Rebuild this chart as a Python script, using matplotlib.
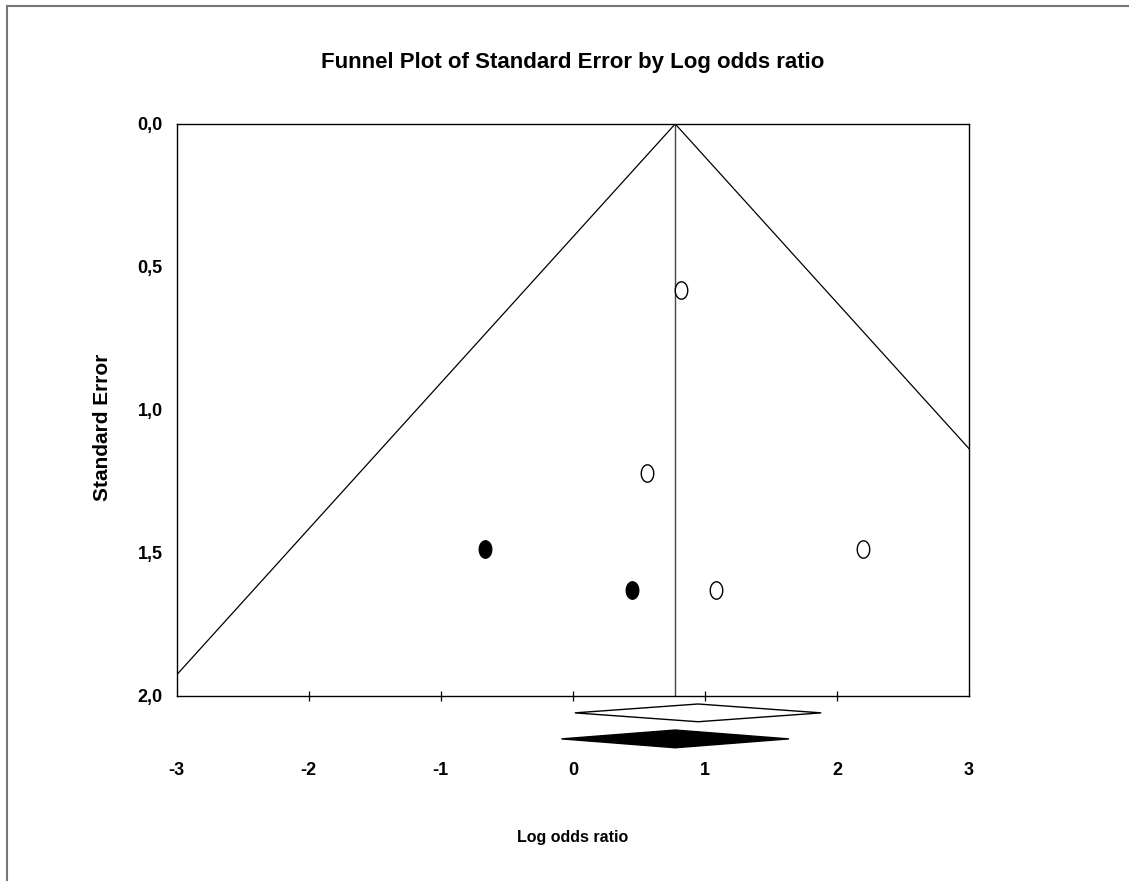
# Funnel plot of standard error by log odds ratio (trim and fill)
import matplotlib
matplotlib.use("Agg")
import matplotlib.pyplot as plt
from matplotlib.patches import Polygon
from matplotlib.path import Path
from matplotlib.lines import Line2D
import numpy as np

# observed studies
log_or_obs = [0.816, 0.558, 2.200, 1.086]
se_obs = [0.582, 1.219, 1.486, 1.631]

# imputed studies
log_or_imp = [-0.666, 0.450]
se_imp = [1.486, 1.631]

# combined estimates: lower, point, upper
combined_obs = [0.015, 0.948, 1.881]
combined_adj = [-0.086, 0.775, 1.636]

x_ticks = [-3, -2, -1, 0, 1, 2, 3]
y_ticks = [0.0, 0.5, 1.0, 1.5, 2.0]
y_ticklabels = ["0,0", "0,5", "1,0", "1,5", "2,0"]

narrow = ["Liberation Sans Narrow", "DejaVu Sans Condensed", "Liberation Sans", "DejaVu Sans"]
wide = ["Liberation Sans", "DejaVu Sans"]

fig = plt.figure(figsize=(11.29, 8.81), dpi=100)
ax = fig.add_axes([0.1565, 0.2100, 0.7018, 0.6493])

# a slightly tall ellipse marker
t = np.linspace(0, 2 * np.pi, 60)
ellipse = Path(np.column_stack([0.72 * np.cos(t), np.sin(t)]), closed=True)

ax.scatter(log_or_obs, se_obs, marker=ellipse, s=12.5 ** 2, facecolors="white",
           edgecolors="black", linewidths=1.0, zorder=4)
ax.scatter(log_or_imp, se_imp, marker=ellipse, s=12.5 ** 2, facecolors="black",
           edgecolors="black", linewidths=1.0, zorder=4)

# funnel around the adjusted estimate
centre = combined_adj[1]
se_line = np.array([0.0, 2.2])
ax.plot(centre - 1.96 * se_line, se_line, color="black", lw=0.9)
ax.plot(centre + 1.96 * se_line, se_line, color="black", lw=0.9)
ax.plot([centre, centre], [0, 2], color="#444444", lw=1.0)

# summary diamonds below the axis
def diamond(ci, y, h, face):
    lo, mid, hi = ci
    pts = [(lo, y), (mid, y - h), (hi, y), (mid, y + h)]
    ax.add_patch(Polygon(pts, closed=True, facecolor=face, edgecolor="black",
                         lw=1.0, clip_on=False, zorder=3))

diamond(combined_obs, 2.059, 0.031, "white")
diamond(combined_adj, 2.150, 0.031, "black")

ax.set_xlim(-3, 3)
ax.set_ylim(2, 0)
ax.set_xticks(x_ticks)
ax.set_xticklabels([str(v) for v in x_ticks], fontfamily=narrow, fontweight="bold", fontsize=13)
ax.set_yticks(y_ticks)
ax.set_yticklabels(y_ticklabels, fontfamily=narrow, fontweight="bold", fontsize=13)
ax.tick_params(axis="x", direction="inout", length=7, width=0.9, pad=44)
ax.tick_params(axis="y", length=0, pad=10)
# no tick marks at the two corners
xt = ax.xaxis.get_major_ticks()
xt[0].tick1line.set_visible(False)
xt[-1].tick1line.set_visible(False)
for s in ax.spines.values():
    s.set_linewidth(1.0)

ax.set_xlabel("Log odds ratio", fontfamily=narrow, fontweight="bold", fontsize=11.5, labelpad=37)
ax.set_ylabel("Standard Error", fontfamily=wide, fontweight="bold", fontsize=15)
ax.yaxis.set_label_coords(-0.082, 0.47)
ax.set_title("Funnel Plot of Standard Error by Log odds ratio", fontfamily=narrow,
             fontweight="bold", fontsize=16, pad=40)

# outer frame lines
fig.add_artist(Line2D([0.006, 0.006], [0, 0.993], color="#777777", lw=1.5))
fig.add_artist(Line2D([0.006, 1.0], [0.993, 0.993], color="#777777", lw=1.5))

fig.savefig("out.png", dpi=100)
plt.close(fig)
